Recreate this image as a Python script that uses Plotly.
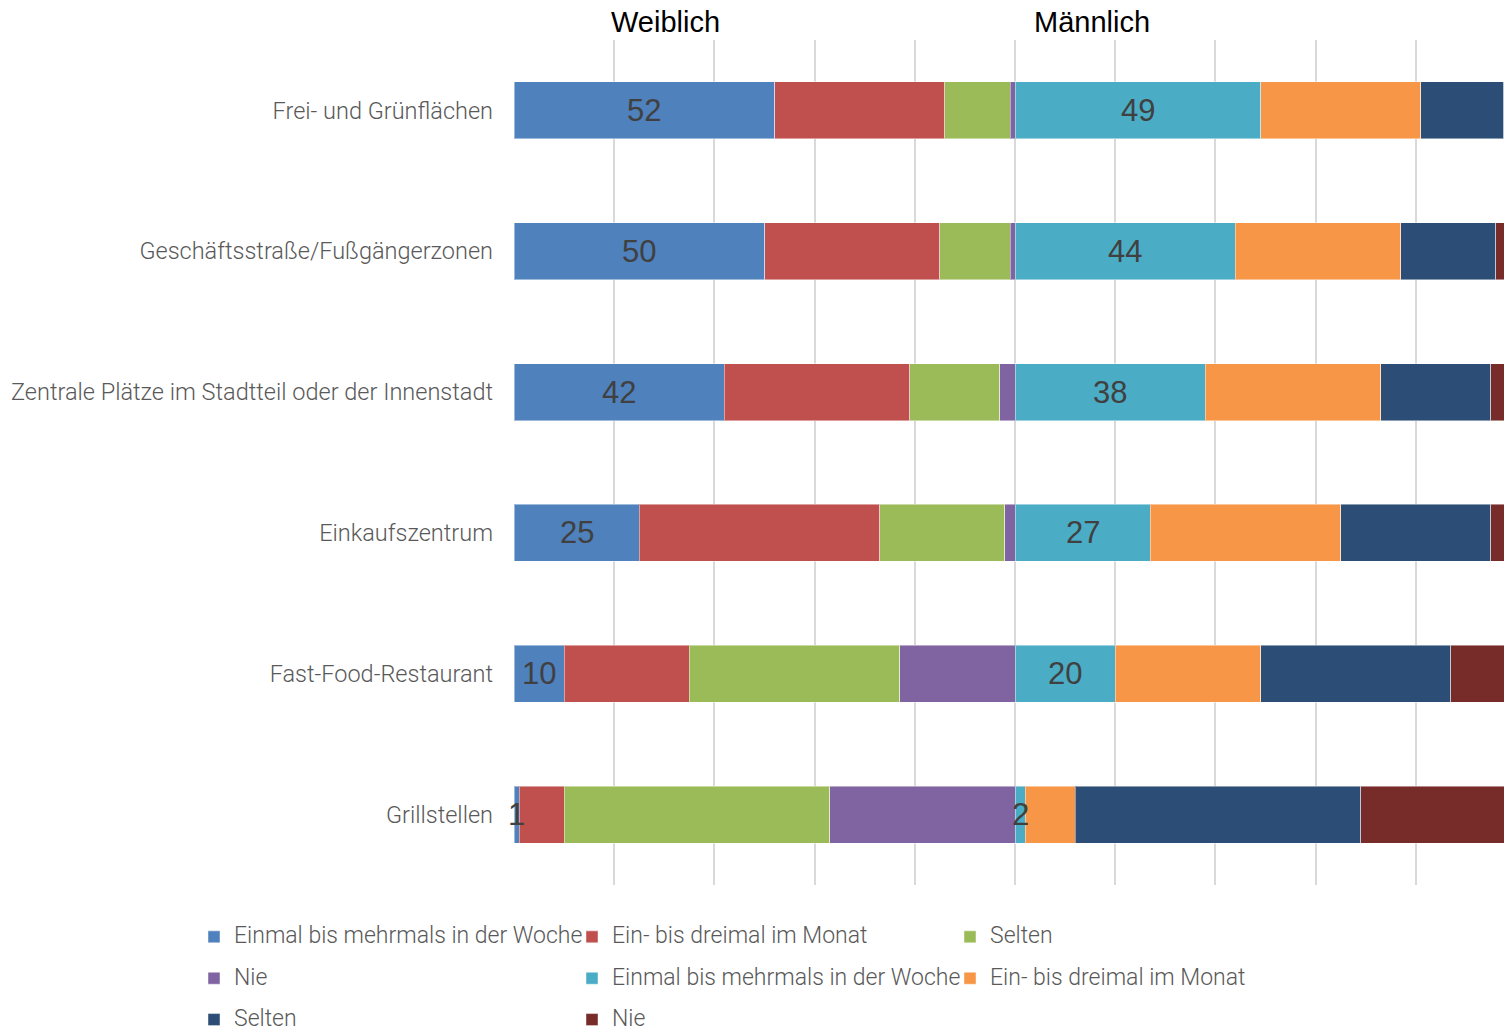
import plotly.graph_objects as go

categories = [
    "Frei- und Grünflächen",
    "Geschäftsstraße/Fußgängerzonen",
    "Zentrale Plätze im Stadtteil oder der Innenstadt",
    "Einkaufszentrum",
    "Fast-Food-Restaurant",
    "Grillstellen",
]

series_names = [
    "Einmal bis mehrmals in der Woche",
    "Ein- bis dreimal im Monat",
    "Selten",
    "Nie",
    "Einmal bis mehrmals in der Woche",
    "Ein- bis dreimal im Monat",
    "Selten",
    "Nie",
]

# Weiblich
w_woche = [52, 50, 42, 25, 10, 1]
w_monat = [34, 35, 37, 48, 25, 9]
w_selten = [13, 14, 18, 25, 42, 53]
w_nie = [1, 1, 3, 2, 23, 37]
# Männlich
m_woche = [49, 44, 38, 27, 20, 2]
m_monat = [32, 33, 35, 38, 29, 10]
m_selten = [16.5, 19, 22, 30, 38, 57]
m_nie = [2.5, 4, 5, 5, 13, 31]

series_values = [w_woche, w_monat, w_selten, w_nie, m_woche, m_monat, m_selten, m_nie]

colors = ["#4F81BD", "#C0504D", "#9BBB59", "#8064A2",
          "#4BACC6", "#F79646", "#2C4D75", "#772C2A"]

group_titles = ["Weiblich", "Männlich"]
group_title_x = [30.3, 115.4]

LABEL_FONT = "Roboto, Open Sans, sans-serif"

fig = go.Figure()
for name, vals, col in zip(series_names, series_values, colors):
    fig.add_trace(go.Bar(
        y=categories,
        x=vals,
        name=f'<span style="font-size:23px;baseline-shift:5px">{name}</span>',
        orientation="h",
        marker=dict(color=col, line=dict(color="rgba(255,255,255,0.45)", width=1)),
        hovertemplate="%{y}: %{x}<extra></extra>",
    ))

# value labels for the first segment of each group (drawn on top of all bars)
w_total = [a + b + c + d for a, b, c, d in zip(w_woche, w_monat, w_selten, w_nie)]
for cat, v in zip(categories, w_woche):
    fig.add_annotation(x=v / 2, y=cat, xref="x", yref="y", text=f"{v:g}",
                       showarrow=False, xanchor="center", yanchor="middle",
                       font=dict(family="Liberation Sans, Arial", size=31, color="#404040"))
for cat, base, v in zip(categories, w_total, m_woche):
    fig.add_annotation(x=base + v / 2, y=cat, xref="x", yref="y", text=f"{v:g}",
                       showarrow=False, xanchor="center", yanchor="middle",
                       font=dict(family="Liberation Sans, Arial", size=31, color="#404040"))

for t, gx in zip(group_titles, group_title_x):
    fig.add_annotation(
        x=gx, xref="x", y=1.0213, yref="paper",
        text=t, showarrow=False, xanchor="center", yanchor="middle",
        font=dict(family="Liberation Sans, Arial", size=29, color="#000000"),
    )

fig.update_layout(
    width=1504,
    height=1033,
    barmode="stack",
    bargap=0.595,
    plot_bgcolor="white",
    paper_bgcolor="white",
    margin=dict(l=514, r=0, t=40, b=148, autoexpand=False),
    font=dict(family=LABEL_FONT, size=23, color="#595959"),
    xaxis=dict(
        range=[0, 197.6],
        dtick=20,
        tick0=0,
        showgrid=True,
        gridcolor="#D9D9D9",
        gridwidth=1.5,
        showticklabels=False,
        zeroline=False,
        showline=False,
        fixedrange=True,
    ),
    yaxis=dict(
        autorange="reversed",
        showgrid=False,
        showline=False,
        ticks="",
        ticklabelstandoff=20,
        tickfont=dict(family=LABEL_FONT, size=23.5, color="#595959", weight=300),
        fixedrange=True,
    ),
    legend=dict(
        orientation="h",
        x=(194 - 514) / 990,
        xanchor="left",
        y=-0.031,
        yanchor="top",
        entrywidth=333,
        entrywidthmode="pixels",
        itemwidth=30,
        traceorder="normal",
        font=dict(family=LABEL_FONT, size=29.5, color="#595959", weight=300),
    ),
    showlegend=True,
)

fig.write_html("out.html", config={"displayModeBar": False},
               post_script="document.body.style.margin='0px';")
